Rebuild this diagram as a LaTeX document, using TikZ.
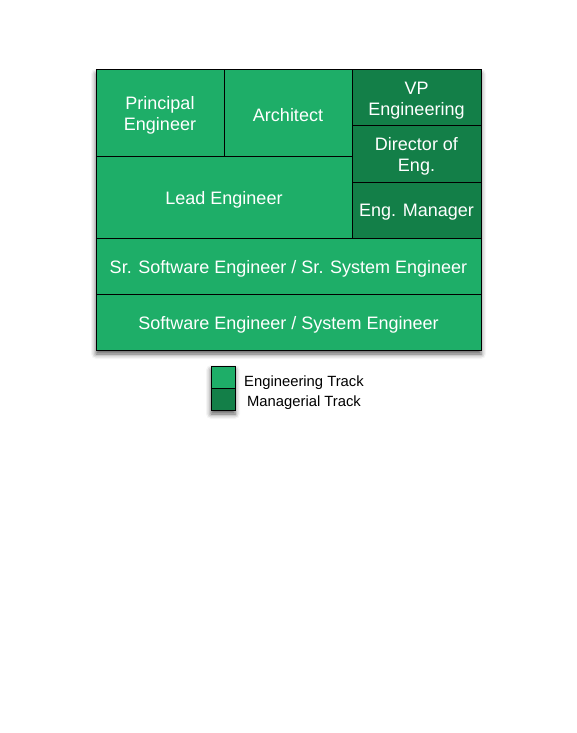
\documentclass[tikz,border=0pt]{standalone}
\usepackage{fontspec}
\setmainfont{Liberation Sans}
\usetikzlibrary{shadows.blur}
\definecolor{engg}{RGB}{30,174,104}
\definecolor{mgr}{RGB}{19,127,72}
\tikzset{
  txt/.style={inner sep=0pt, text=white, align=center,
    font=\fontsize{18}{21.6}\selectfont, yshift=-2.5pt},
  cell/.style={draw=black, line width=1pt, inner sep=0pt, anchor=center},
  engcell/.style={cell, fill=engg},
  mgrcell/.style={cell, fill=mgr},
  legtext/.style={font=\fontsize{14.8}{17}\selectfont, text=black, inner sep=0pt, yshift=-2pt},
}
\begin{document}
\begin{tikzpicture}[x=1pt,y=-1pt]
\useasboundingbox (0,0) rectangle (576,733);
% shadows
\path[fill=white, blur shadow={shadow xshift=0pt, shadow yshift=-4pt, shadow blur radius=5pt, shadow opacity=65}] (96,70) rectangle (481,350);
\path[fill=white, blur shadow={shadow xshift=0pt, shadow yshift=-4pt, shadow blur radius=5pt, shadow opacity=65}] (211,366) rectangle (235,410);
% cells
\node[engcell, minimum width=128pt, minimum height=86pt, label={[txt]center:Principal\\Engineer}] (pe) at (160,113) {};
\node[engcell, minimum width=128pt, minimum height=86pt, label={[txt]center:Architect}] (ar) at (288,113) {};
\node[engcell, minimum width=256pt, minimum height=82pt, label={[txt]center:Lead Engineer}] (le) at (224,197) {};
\node[mgrcell, minimum width=129pt, minimum height=56pt, label={[txt]center:VP\\Engineering}] (vp) at (416.5,98) {};
\node[mgrcell, minimum width=129pt, minimum height=56pt, label={[txt]center:Director of\\Eng.}] (dir) at (416.5,154) {};
\node[mgrcell, minimum width=129pt, minimum height=56pt, label={[txt]center:Eng. Manager}] (em) at (416.5,210) {};
\node[engcell, minimum width=385pt, minimum height=56pt, label={[txt]center:Sr. Software Engineer / Sr. System Engineer}] (sr) at (288.5,266) {};
\node[engcell, minimum width=385pt, minimum height=56pt, label={[txt]center:Software Engineer / System Engineer}] (sw) at (288.5,322) {};
% legend
\node[engcell, minimum width=24pt, minimum height=22pt] (lg1) at (223,377) {};
\node[mgrcell, minimum width=24pt, minimum height=22pt] (lg2) at (223,399) {};
\node[legtext] (lt1) at (304,381) {Engineering Track};
\node[legtext] (lt2) at (304,401) {Managerial Track};
\end{tikzpicture}
\end{document}
